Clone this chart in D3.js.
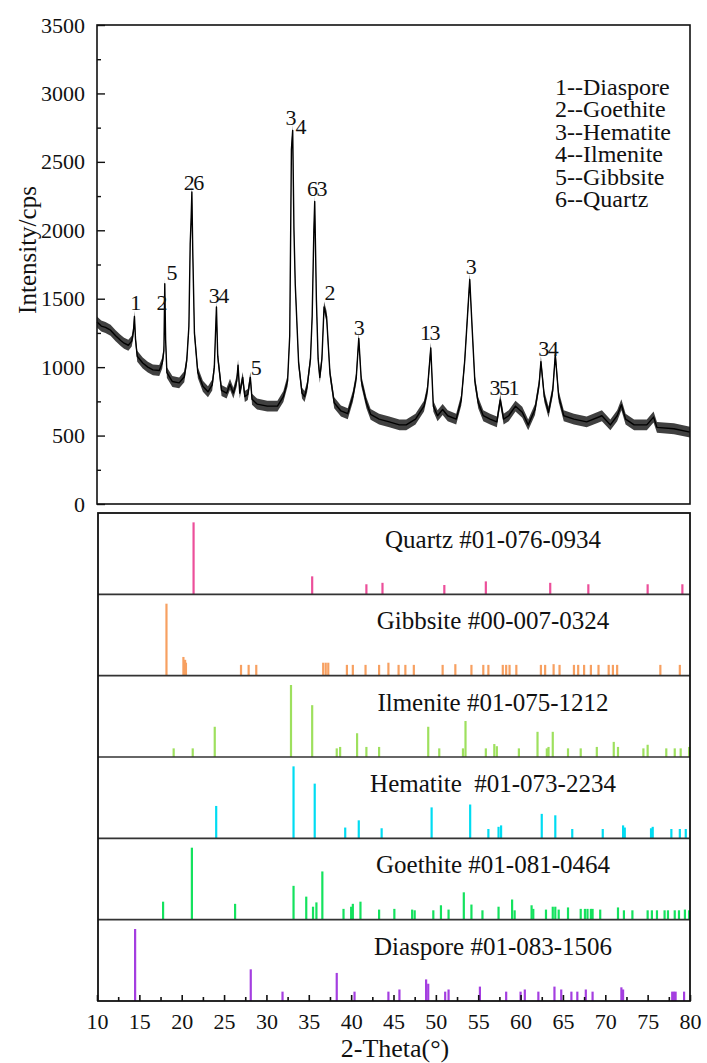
<!DOCTYPE html>
<html>
<head>
<meta charset="utf-8">
<script src="https://cdnjs.cloudflare.com/ajax/libs/d3/7.8.5/d3.min.js"></script>
<style>
body { margin: 0; background: #fff; }
</style>
</head>
<body>
<svg id="chart" width="707" height="1063"></svg>
<script>
'use strict';

var serif = "'Liberation Serif', 'DejaVu Serif', 'Noto Serif', Tinos, Times, serif";

var scanTheta = [10.0,10.5,11.0,11.6,12.2,12.8,13.2,13.7,14.1,14.3,14.42,14.55,14.75,15.4,16.0,16.6,17.35,17.7,17.9,18.0,18.1,18.25,18.9,19.7,20.3,20.6,20.85,21.0,21.1,21.2,21.3,21.5,21.9,22.5,23.1,23.6,23.85,24.1,24.25,24.7,25.3,25.7,26.1,26.5,26.65,26.85,27.2,27.45,27.8,28.1,28.3,28.9,30.1,31.3,32.0,32.5,32.75,32.95,33.1,33.25,33.4,33.8,34.2,34.5,34.8,35.2,35.4,35.6,35.7,35.9,36.1,36.3,36.55,36.8,37.1,37.5,38.0,38.8,39.6,40.2,40.6,40.9,41.2,41.8,42.3,43.3,44.5,45.7,46.5,47.6,48.6,49.0,49.4,49.7,50.2,50.8,51.4,52.4,53.0,53.4,53.7,54.0,54.3,54.6,55.0,55.6,56.4,57.2,57.6,58.0,58.6,59.4,60.2,60.9,61.7,62.2,62.4,62.8,63.3,63.8,64.1,64.5,65.1,66.3,67.8,69.6,70.6,71.4,71.9,72.4,73.4,74.9,75.7,76.1,78.1,80.0];
var scanCounts = [1330,1300,1290,1270,1230,1195,1175,1160,1190,1260,1370,1200,1080,1030,1000,980,975,1030,1120,1610,1200,960,895,885,930,1050,1300,1900,2060,2280,1860,1250,960,860,820,870,1000,1440,1080,830,810,875,810,900,1015,810,925,785,800,925,765,730,715,715,785,900,1230,2590,2730,2000,1610,1030,810,785,855,1060,1370,2000,2210,1490,1060,925,1060,1440,1370,955,740,680,660,785,920,1210,900,740,655,620,600,578,578,620,715,830,1140,715,645,690,645,620,760,1040,1340,1640,1265,900,740,645,620,600,760,620,645,715,670,578,690,880,1040,785,670,830,1090,785,645,620,600,645,578,645,725,620,578,578,635,560,550,525];
// half width of the counting noise band around the trace
var noiseSpread = 40;

// peak numbers written over the scan
var markText = ['1','2','5','26','3','4','63','34','5','2','3','13','3','351','34'];
var markTheta = [14.49,17.57,18.75,21.35,32.82,34.0,35.9,24.3,28.7,37.43,40.86,49.26,54.1,58.0,63.2];
var markCounts = [1418,1418,1640,2298,2766,2700,2254,1472,946,1487,1238,1195,1677,800,1085];

var legendItems = ['1--Diaspore','2--Goethite','3--Hematite','4--Ilmenite','5--Gibbsite','6--Quartz'];

var yTicks = [0,500,1000,1500,2000,2500,3000,3500];
var xTicks = [10,15,20,25,30,35,40,45,50,55,60,65,70,75,80];

// reference patterns, top to bottom: [2-theta, relative intensity]
var phases = ['Quartz','Gibbsite','Ilmenite','Hematite','Goethite','Diaspore'];
var cards = ['Quartz #01-076-0934','Gibbsite #00-007-0324','Ilmenite #01-075-1212','Hematite  #01-073-2234','Goethite #01-081-0464','Diaspore #01-083-1506'];
var colors = ['#ec4f9a','#f7a061','#9ee05e','#00dcf2','#14e25e','#a43ee0'];

var quartzSticks = [[21.4,100],[35.4,25],[41.8,14],[43.7,16],[51.0,13],[55.9,18],[63.5,16],[68.0,14],[75.0,14],[79.1,14]];
var gibbsiteSticks = [[18.2,100],[20.2,26],[20.4,22],[20.5,18],[27.0,15],[27.9,15],[28.8,15],[36.7,18],[37.0,18],[37.3,18],[39.5,15],[40.2,15],[41.7,15],[43.3,15],[44.4,18],[45.6,15],[46.4,15],[47.4,15],[50.8,15],[52.3,16],[54.2,15],[55.6,15],[56.2,15],[57.9,15],[58.3,15],[58.7,15],[59.5,15],[62.4,15],[62.9,15],[63.9,16],[64.6,15],[66.3,15],[66.8,15],[67.5,15],[68.3,15],[69.2,15],[70.4,15],[70.9,15],[71.4,15],[76.5,15],[78.8,15]];
var ilmeniteSticks = [[19.05,12],[21.3,12],[23.9,42],[32.9,100],[35.4,72],[38.3,12],[38.7,14],[40.7,33],[41.8,14],[43.3,14],[49.1,42],[50.4,12],[53.2,12],[53.5,50],[55.9,12],[56.9,18],[57.2,15],[59.8,12],[62.0,35],[63.1,12],[63.3,14],[63.8,35],[65.6,12],[67.1,12],[69.0,14],[71.0,21],[71.5,14],[74.5,12],[75.0,17],[77.2,12],[78.2,12],[78.9,12],[79.9,14]];
var hematiteSticks = [[24.07,45],[33.2,100],[35.7,76],[39.3,15],[40.9,25],[43.6,14],[49.5,43],[54.05,47],[56.2,13],[57.4,16],[57.7,18],[62.5,34],[64.1,32],[66.1,13],[69.7,13],[72.1,18],[72.3,15],[75.4,14],[75.6,16],[77.8,13],[78.8,13],[79.5,13]];
var goethiteSticks = [[17.8,25],[21.2,100],[26.3,22],[33.2,47],[34.7,32],[35.5,18],[35.9,24],[36.6,67],[39.1,15],[40.0,18],[40.2,22],[41.1,25],[43.3,14],[45.1,15],[47.2,14],[47.5,13],[49.7,13],[50.6,20],[51.5,14],[53.3,38],[54.2,21],[55.5,13],[57.4,18],[59.0,28],[59.3,13],[61.3,20],[61.5,15],[63.0,14],[63.8,18],[64.1,18],[64.5,14],[65.6,17],[67.1,15],[67.6,15],[67.9,15],[68.3,15],[68.5,15],[69.4,14],[71.5,17],[72.2,13],[73.2,13],[75.0,13],[75.5,13],[76.1,13],[77.0,13],[77.4,13],[78.2,13],[78.7,13],[79.4,14],[79.9,13]];
var diasporeSticks = [[14.5,100],[28.15,44],[31.9,13],[38.3,39],[40.4,13],[44.4,13],[45.7,16],[48.85,30],[49.1,24],[51.1,13],[51.5,16],[55.2,20],[58.3,13],[60.0,13],[60.5,16],[62.1,13],[64.0,20],[64.8,16],[66.0,13],[66.7,13],[67.7,16],[68.5,13],[71.9,19],[72.1,16],[77.9,13],[78.1,13],[78.3,13],[79.3,13]];
var sticks = [quartzSticks, gibbsiteSticks, ilmeniteSticks, hematiteSticks, goethiteSticks, diasporeSticks];

var svg = d3.select('#chart').style('font-family', serif);

var x = d3.scaleLinear().domain([10, 80]).range([97, 690]);
var y = d3.scaleLinear().domain([0, 3500]).range([504, 25]);
var band = d3.scaleBand().domain(phases).range([513, 1001]);
var rel = d3.scaleLinear().domain([0, 100]).range([0, band.bandwidth() * 0.885]);

function addText(g, size) {
	return g.append('text').style('font-family', serif)
		.style('font-size', size + 'px').attr('fill', '#111');
}

function drawScan() {
	var pts = scanTheta.map(function(t, i) { return [t, scanCounts[i]]; });
	var line = d3.line().x(function(d) { return x(d[0]); }).y(function(d) { return y(d[1]); });
	var noise = d3.area().x(function(d) { return x(d[0]); })
		.y0(function(d) { return y(d[1] - noiseSpread); })
		.y1(function(d) { return y(d[1] + noiseSpread); });
	svg.append('path').datum(pts).attr('d', noise).attr('fill', '#000').attr('fill-opacity', 0.75);
	svg.append('path').datum(pts).attr('d', line)
		.attr('fill', 'none').attr('stroke', '#000').attr('stroke-width', 1.4)
		.attr('stroke-linejoin', 'round');

	markText.forEach(function(m, i) {
		addText(svg, 22).attr('x', x(markTheta[i])).attr('y', y(markCounts[i]))
			.attr('text-anchor', 'middle').attr('letter-spacing', -1.5).text(m);
	});

	svg.append('rect').attr('x', 97).attr('y', 25).attr('width', 593).attr('height', 479)
		.attr('fill', 'none').attr('stroke', '#111').attr('stroke-width', 1.6);

	var left = svg.append('g').attr('transform', 'translate(97,0)');
	left.call(d3.axisLeft(y).tickValues(yTicks).tickSize(-8).tickPadding(12).tickFormat(d3.format('d')));
	left.append('g').call(d3.axisLeft(y).tickValues(d3.range(250, 3500, 500)).tickSize(-4).tickFormat(''));
	left.selectAll('.domain').remove();
	left.attr('font-family', null);
	left.selectAll('line').attr('stroke', '#111').attr('stroke-width', 1.4);
	left.selectAll('text').style('font-family', serif).style('font-size', '22px').attr('fill', '#111');

	addText(svg, 25).attr('transform', 'translate(36,250) rotate(-90)')
		.attr('text-anchor', 'middle').text('Intensity/cps');

	legendItems.forEach(function(d, i) {
		addText(svg, 24).attr('x', 555).attr('y', 95 + i * 22.4).text(d);
	});
}

function drawPatterns() {
	phases.forEach(function(p, k) {
		var base = band(p) + band.bandwidth();
		svg.append('g').selectAll('line').data(sticks[k]).enter().append('line')
			.attr('x1', function(d) { return x(d[0]); })
			.attr('x2', function(d) { return x(d[0]); })
			.attr('y1', base)
			.attr('y2', function(d) { return base - rel(d[1]); })
			.attr('stroke', colors[k]).attr('stroke-width', 2.2);
		addText(svg, 25).attr('x', 493).attr('y', band(p) + 35)
			.attr('text-anchor', 'middle').style('white-space', 'pre')
			.text(cards[k]);
		if (k > 0) {
			svg.append('line').attr('x1', 98).attr('x2', 690).attr('y1', band(p)).attr('y2', band(p))
				.attr('stroke', '#333').attr('stroke-width', 1.6);
		}
	});

	svg.append('rect').attr('x', 98).attr('y', 513).attr('width', 592).attr('height', 488)
		.attr('fill', 'none').attr('stroke', '#111').attr('stroke-width', 1.8);

	var bottom = svg.append('g').attr('transform', 'translate(0,1001)');
	bottom.call(d3.axisBottom(x).tickValues(xTicks).tickSize(-6).tickPadding(12));
	bottom.append('g').call(d3.axisBottom(x).tickValues(d3.range(12.5, 80, 5)).tickSize(-4).tickFormat(''));
	bottom.selectAll('.domain').remove();
	bottom.attr('font-family', null);
	bottom.selectAll('line').attr('stroke', '#111').attr('stroke-width', 1.6);
	bottom.selectAll('text').style('font-family', serif).style('font-size', '22px').attr('fill', '#111');

	addText(svg, 26).attr('x', 395).attr('y', 1057).attr('text-anchor', 'middle')
		.text('2-Theta(\u00b0)');
}

drawScan();
drawPatterns();
</script>
</body>
</html>
